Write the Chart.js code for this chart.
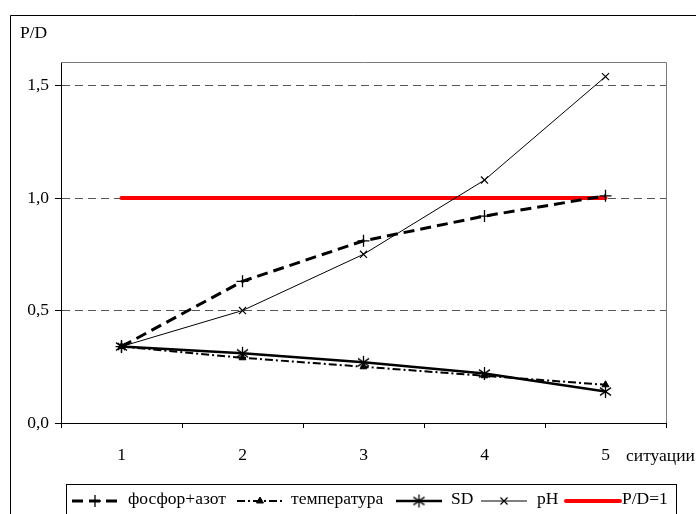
<!DOCTYPE html>
<html>
<head>
<meta charset="utf-8">
<script src="https://cdn.jsdelivr.net/npm/chart.js@4/dist/chart.umd.min.js"></script>
<style>
  html,body{margin:0;padding:0;background:#fff;}
  #wrap{width:696px;height:514px;position:relative;}
</style>
</head>
<body>
<div id="wrap"><canvas id="c" width="696" height="514"></canvas></div>
<script>
// P/D по ситуациям
const situations=['1','2','3','4','5'];
const fosforAzot=[0.34,0.63,0.81,0.92,1.01];
const temperatura=[0.34,0.29,0.25,0.21,0.17];
const sdVals=[0.34,0.31,0.27,0.22,0.14];
const phVals=[0.34,0.50,0.75,1.08,1.54];
const pdOne=[1,1,1,1,1];
const yTicks=[0,0.5,1.0,1.5];

const FONT='"Liberation Serif","Times New Roman",serif';
const FS=17.5;

// asterisk marker (x + vertical stroke), like the SD marker
function asterisk(size,lw){
  const c=document.createElement('canvas'); c.width=size; c.height=size;
  const g=c.getContext('2d'); const h=size/2, r=h-1;
  g.strokeStyle='#000'; g.lineWidth=lw;
  g.beginPath();
  g.moveTo(h,h-r); g.lineTo(h,h+r);
  g.moveTo(h-r*0.85,h-r*0.6); g.lineTo(h+r*0.85,h+r*0.6);
  g.moveTo(h-r*0.85,h+r*0.6); g.lineTo(h+r*0.85,h-r*0.6);
  g.stroke();
  return c;
}
const starMark=asterisk(15,1.3);

const datasets=[
  {label:'фосфор+азот',data:fosforAzot,borderColor:'#000',borderWidth:3,borderDash:[11,6],
   pointStyle:'cross',pointRadius:6,pointBorderWidth:1.3,pointBorderColor:'#000',pointBackgroundColor:'#000'},
  {label:'температура',data:temperatura,borderColor:'#000',borderWidth:2,borderDash:[8,3,2,3],
   pointStyle:'triangle',pointRadius:4,pointBorderWidth:1,pointBorderColor:'#000',pointBackgroundColor:'#000'},
  {label:'SD',data:sdVals,borderColor:'#000',borderWidth:2.5,
   pointStyle:starMark,pointRadius:7,pointBorderColor:'#000',pointBackgroundColor:'#000'},
  {label:'pH',data:phVals,borderColor:'#000',borderWidth:1,
   pointStyle:'crossRot',pointRadius:5,pointBorderWidth:1.2,pointBorderColor:'#000',pointBackgroundColor:'#000'},
  {label:'P/D=1',data:pdOne,borderColor:'#ff0000',borderWidth:4,borderCapStyle:'round',pointRadius:0}
].map(d=>Object.assign({tension:0,fill:false},d));

// frame, axis titles and the boxed legend
const decor={
  id:'decor',
  beforeDatasetsDraw(chart){
    const {ctx,chartArea:a}=chart;
    ctx.save();
    ctx.strokeStyle='#7a7a7a'; ctx.lineWidth=1;
    ctx.beginPath();
    ctx.moveTo(a.left,a.top+0.5); ctx.lineTo(a.right+0.5,a.top+0.5); ctx.lineTo(a.right+0.5,a.bottom);
    ctx.stroke();
    ctx.restore();
  },
  afterDraw(chart){
    const ctx=chart.ctx;
    ctx.save();
    // outer frame
    ctx.strokeStyle='#000'; ctx.lineWidth=1;
    ctx.beginPath(); ctx.moveTo(10.5,520); ctx.lineTo(10.5,15.5); ctx.lineTo(700,15.5); ctx.stroke();
    ctx.fillStyle='#000'; ctx.font=FS+'px '+FONT; ctx.textBaseline='middle';
    ctx.textAlign='left';
    ctx.fillText('P/D',20,33);
    ctx.fillText('ситуации',626,456);
    // legend
    ctx.strokeRect(66.5,484.5,610,40);
    const pos=[{s:72,t:128},{s:237,t:291},{s:396,t:451},{s:481,t:537},{s:566,t:622}];
    const y=501;
    chart.data.datasets.forEach((ds,i)=>{
      const p=pos[i], w=(i===4?54:46);
      ctx.save();
      ctx.strokeStyle=ds.borderColor; ctx.lineWidth=ds.borderWidth;
      ctx.setLineDash(ds.borderDash||[]); ctx.lineCap=ds.borderCapStyle||'butt';
      ctx.beginPath(); ctx.moveTo(p.s,y); ctx.lineTo(p.s+w,y); ctx.stroke();
      ctx.setLineDash([]); ctx.lineCap='butt';
      if(ds.pointRadius>0){
        ctx.strokeStyle='#000'; ctx.fillStyle='#000'; ctx.lineWidth=ds.pointBorderWidth||1;
        Chart.helpers.drawPoint(ctx,{pointStyle:ds.pointStyle,radius:ds.pointRadius,borderWidth:ds.pointBorderWidth||1,rotation:0},p.s+w/2,y);
      }
      ctx.restore();
      ctx.fillText(ds.label,p.t,y-2);
    });
    ctx.restore();
  }
};

new Chart(document.getElementById('c'),{
  type:'line',
  data:{labels:situations,datasets},
  options:{
    responsive:false,animation:false,
    layout:{padding:{top:62,right:30,left:0,bottom:0}},
    plugins:{legend:{display:false},tooltip:{enabled:false}},
    scales:{
      x:{
        offset:true,
        afterFit(s){s.height=91;},
        grid:{display:true,offset:true,drawOnChartArea:false,drawTicks:true,tickLength:5,tickColor:'#000'},
        border:{display:true,color:'#000',width:1},
        ticks:{color:'#000',font:{family:FONT,size:FS},padding:17,maxRotation:0}
      },
      y:{
        min:0,max:1.605,
        afterFit(s){s.width=61;},
        afterBuildTicks(s){s.ticks=yTicks.map(v=>({value:v}));},
        grid:{color:c=>c.tick&&c.tick.value===0?'rgba(0,0,0,0)':'#555',lineWidth:1,
              tickLength:6,tickColor:'#000',tickBorderDash:[]},
        border:{display:true,color:'#000',width:1,dash:[8,5]},
        ticks:{color:'#000',font:{family:FONT,size:FS},padding:6,
               callback:v=>v.toFixed(1).replace('.',',')}
      }
    }
  },
  plugins:[decor]
});
</script>
</body>
</html>
